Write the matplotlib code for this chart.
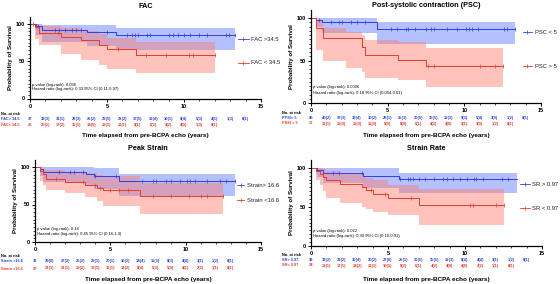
import numpy as np
import matplotlib
matplotlib.use("Agg")
import matplotlib.pyplot as plt
from matplotlib.transforms import blended_transform_factory

plt.rcParams['font.family'] = ['Liberation Sans', 'DejaVu Sans']

BLUE = '#2f3fe0'
RED = '#e8392c'
BLUE_FILL = '#5a74ff'
RED_FILL = '#ff7a6a'

# ---- FAC ----
fac_hi_t = [0, 0.4, 0.8, 3.7, 5.6]
fac_hi_s = [100, 97, 92, 89, 85]
fac_hi_up = [100, 100, 99, 98, 94]
fac_hi_lo = [100, 85, 76, 70, 65]
fac_hi_end = 13.3
fac_hi_cens = [0.2, 0.5, 1.6, 1.9, 2.3, 2.7, 3.0, 3.3, 5.0, 6.3, 6.6, 6.8, 7.0, 7.6, 7.8,
               9.0, 9.3, 9.6, 10.0, 10.4, 11.0, 11.5, 12.7, 12.9, 13.3]
fac_lo_t = [0, 0.3, 0.6, 2.0, 3.3, 4.5, 5.0, 6.9]
fac_lo_s = [100, 96, 88, 83, 79, 72, 66, 58]
fac_lo_up = [100, 100, 97, 94, 91, 86, 81, 76]
fac_lo_lo = [100, 80, 72, 60, 52, 45, 40, 34]
fac_lo_end = 12.0
fac_lo_cens = [0.4, 1.8, 5.7, 7.5, 8.8, 10.3, 10.6, 12.0]
fac_risk_hi = ['37', '32(3)', '31(1)', '28(3)', '25(2)', '23(5)', '22(2)', '17(5)', '13(4)',
               '10(1)', '8(4)', '5(3)', '4(1)', '1(3)', '0(1)']
fac_risk_lo = ['25', '20(1)', '17(2)', '15(1)', '14(0)', '12(1)', '11(1)', '9(1)', '6(3)',
               '4(2)', '4(0)', '1(3)', '0(1)']

# ---- PSC ----
psc_lo_t = [0, 0.3, 0.7, 4.3]
psc_lo_s = [100, 98, 95, 87]
psc_lo_up = [100, 100, 100, 95]
psc_lo_lo = [100, 90, 82, 70]
psc_lo_end = 13.3
psc_lo_cens = [0.5, 1.3, 1.8, 2.0, 2.6, 3.0, 3.5, 5.2, 5.6, 6.2, 6.3, 6.8, 7.5, 7.8, 8.0,
               8.9, 9.5, 10.1, 10.3, 10.5, 10.9, 12.6, 12.8, 13.3]
psc_hi_t = [0, 0.3, 0.8, 2.3, 3.3, 3.5, 5.7, 7.5]
psc_hi_s = [100, 88, 76, 76, 66, 57, 51, 44]
psc_hi_up = [100, 98, 88, 84, 80, 74, 72, 65]
psc_hi_lo = [100, 62, 49, 41, 36, 30, 27, 19]
psc_hi_end = 12.5
psc_hi_cens = [7.6, 8.0, 11.0, 12.0, 12.5]
psc_risk_lo = ['45', '40(2)', '37(3)', '33(4)', '30(2)', '28(1)', '25(3)', '20(5)', '15(5)',
               '12(3)', '9(3)', '5(4)', '3(0)', '1(2)', '0(1)']
psc_risk_hi = ['17', '12(1)', '11(0)', '11(0)', '11(0)', '9(0)', '8(0)', '6(1)', '4(2)',
               '4(0)', '3(1)', '3(0)', '1(2)', '0(1)']

# ---- Peak strain ----
ps_hi_t = [0, 0.3, 0.5, 3.4, 3.9, 5.6]
ps_hi_s = [100, 97, 94, 91, 88, 82]
ps_hi_up = [100, 100, 100, 100, 99, 91]
ps_hi_lo = [100, 88, 80, 76, 71, 61]
ps_hi_end = 13.3
ps_hi_cens = [1.6, 2.3, 2.6, 3.2, 4.0, 5.4, 7.1, 7.8, 8.0, 8.7, 9.0, 9.6, 10.1, 10.3,
              10.6, 11.4, 12.3, 12.7, 13.3]
ps_lo_t = [0, 0.3, 0.5, 0.7, 2.0, 3.3, 4.1, 4.5, 7.0]
ps_lo_s = [100, 95, 91, 84, 80, 76, 72, 70, 62]
ps_lo_up = [100, 100, 98, 96, 94, 92, 90, 88, 79]
ps_lo_lo = [100, 82, 76, 70, 65, 60, 55, 48, 38]
ps_lo_end = 12.5
ps_lo_cens = [1.4, 3.2, 4.0, 4.3, 5.0, 5.6, 6.2, 7.8, 9.0, 10.2, 11.0, 11.4, 12.5]
ps_risk_hi = ['31', '29(0)', '27(2)', '25(2)', '22(1)', '20(1)', '16(2)', '14(4)', '11(3)',
              '8(3)', '4(4)', '3(1)', '1(2)', '0(1)']
ps_risk_lo = ['27', '23(3)', '21(1)', '19(2)', '17(1)', '15(1)', '13(2)', '8(4)', '5(3)',
              '5(0)', '4(1)', '2(2)', '1(1)', '0(1)']

# ---- Strain rate ----
sr_hi_t = [0, 0.4, 0.8, 3.4, 5.7]
sr_hi_s = [100, 97, 93, 90, 86]
sr_hi_up = [100, 100, 100, 100, 93]
sr_hi_lo = [100, 88, 80, 74, 68]
sr_hi_end = 13.4
sr_hi_cens = [1.4, 1.8, 3.3, 5.8, 6.3, 6.4, 6.6, 7.0, 7.4, 8.0, 8.6, 8.8, 9.2, 9.7, 10.1,
              10.6, 10.7, 11.2, 12.4, 12.8]
sr_lo_t = [0, 0.3, 0.6, 0.8, 1.0, 1.9, 3.3, 3.6, 4.0, 5.0, 7.0]
sr_lo_s = [100, 96, 92, 88, 84, 79, 75, 71, 66, 61, 53]
sr_lo_up = [100, 100, 100, 98, 96, 93, 90, 87, 84, 78, 73]
sr_lo_lo = [100, 84, 78, 70, 62, 55, 50, 47, 44, 40, 27]
sr_lo_end = 12.5
sr_lo_cens = [3.9, 4.8, 6.5, 10.3, 10.5, 12.0, 12.5]
sr_risk_hi = ['38', '33(2)', '31(2)', '30(4)', '30(2)', '27(0)', '25(1)', '20(5)', '15(5)',
              '12(3)', '8(4)', '4(4)', '3(1)', '1(2)', '0(1)']
sr_risk_lo = ['24', '19(1)', '17(1)', '14(2)', '13(1)', '10(1)', '8(2)', '6(1)', '4(2)',
              '4(0)', '4(0)', '2(2)', '1(1)', '0(1)']

W, H = 560, 284
fig = plt.figure(figsize=(W / 100, H / 100), dpi=100)


def fy(py):
    return 1 - py / H


def km(ax, t, s, up, lo, end, cens, color, fill):
    tt = list(t) + [end]
    ss = list(s) + [s[-1]]
    uu = list(up) + [up[-1]]
    ll = list(lo) + [lo[-1]]
    ax.fill_between(tt, ll, uu, step='post', color=fill, alpha=0.45, lw=0)
    ax.step(tt, ss, where='post', color=color, lw=0.7)
    cy = [ss[np.searchsorted(tt, c, side='right') - 1] for c in cens]
    ax.plot(cens, cy, ls='none', marker='|', ms=2.2, mew=0.5, color=color)


def panel(px, title, title_y, nar_y, r1_y, r2_y, xl_y, lab_x,
          g1, g2, leg1, leg2, risk1, risk2, name1, name2, pval, hr, ann_y):
    x0, x15, y0, ytop = px
    ax = fig.add_axes([x0 / W, fy(y0), (x15 - x0) / W, (y0 - ytop) / H])
    km(ax, *g1, BLUE, BLUE_FILL)
    km(ax, *g2, RED, RED_FILL)
    ax.set_xlim(0, 15)
    ax.set_ylim(0, 110)
    for side in ['top', 'right']:
        ax.spines[side].set_visible(False)
    for side in ['left', 'bottom']:
        ax.spines[side].set_linewidth(0.9)
    ax.set_xticks([0, 5, 10, 15])
    ax.set_xticks(np.arange(0, 16, 1), minor=True)
    ax.set_yticks([0, 50, 100])
    ax.set_yticks(np.arange(0, 101, 5), minor=True)
    ax.tick_params(which='major', length=2.5, width=0.7, labelsize=4.0, pad=1.2)
    ax.tick_params(which='minor', length=1.5, width=0.5)
    for lb in ax.get_xticklabels() + ax.get_yticklabels():
        lb.set_fontweight('bold')
    ax.set_ylabel('Probability of Survival', fontsize=4.4, fontweight='bold', labelpad=2)

    tr = blended_transform_factory(ax.transData, fig.transFigure)
    ax.text(7.5, fy(title_y), title, transform=tr, fontsize=5.2, fontweight='bold',
            ha='center', va='center')

    # legend
    for (ly, col, txt) in [(leg1[0], BLUE, leg1[1]), (leg2[0], RED, leg2[1])]:
        lx0, lx1, tx = leg1[2], leg1[3], leg1[4]
        ax.plot([lx0, lx1], [ly, ly], color=col, lw=0.6, clip_on=False)
        ax.plot([(lx0 + lx1) / 2], [ly], marker='|', ms=2.2, mew=0.5, color=col, clip_on=False)
        ax.text(tx, ly, txt, fontsize=4.2, va='center', ha='left', color='#222222', clip_on=False)

    ax.text(0.15, ann_y[0], pval, fontsize=3.0, va='center', ha='left')
    ax.text(0.15, ann_y[1], hr, fontsize=3.0, va='center', ha='left')

    fig.text(lab_x / W, fy(nar_y), 'No. at risk', fontsize=2.8, fontweight='bold',
             va='center', ha='left')
    fig.text(lab_x / W, fy(r1_y), name1, fontsize=2.8, fontweight='bold', color=BLUE,
             va='center', ha='left')
    fig.text(lab_x / W, fy(r2_y), name2, fontsize=2.8, fontweight='bold', color=RED,
             va='center', ha='left')
    for i, v in enumerate(risk1):
        ax.text(i, fy(r1_y), v, transform=tr, fontsize=2.9, fontweight='bold', color=BLUE,
                ha='center', va='center')
    for i, v in enumerate(risk2):
        ax.text(i, fy(r2_y), v, transform=tr, fontsize=2.9, fontweight='bold', color=RED,
                ha='center', va='center')
    ax.text(7.5, fy(xl_y), 'Time elapsed from pre-BCPA echo (years)', transform=tr,
            fontsize=4.6, fontweight='bold', ha='center', va='center')
    return ax


panel((30, 261, 98.5, 16.5), 'FAC', 6.5, 114, 119, 125, 136, 1,
      (fac_hi_t, fac_hi_s, fac_hi_up, fac_hi_lo, fac_hi_end, fac_hi_cens),
      (fac_lo_t, fac_lo_s, fac_lo_up, fac_lo_lo, fac_lo_end, fac_lo_cens),
      (79.5, 'FAC >34.5', 13.5, 14.2, 14.35), (48, 'FAC < 34.5'),
      fac_risk_hi, fac_risk_lo, 'FAC> 34.5', 'FAC< 34.5',
      'p value (log-rank): 0.036', 'Hazard ratio (log-rank): 0.33 95% CI (0.11-0.97)', (18, 12.5))

panel((311, 541, 103, 9.5), 'Post-systolic contraction (PSC)', 5.5, 113, 117.5, 123.5, 136, 282,
      (psc_lo_t, psc_lo_s, psc_lo_up, psc_lo_lo, psc_lo_end, psc_lo_cens),
      (psc_hi_t, psc_hi_s, psc_hi_up, psc_hi_lo, psc_hi_end, psc_hi_cens),
      (83, 'PSC < 5', 13.8, 14.4, 14.6), (43.5, 'PSC > 5'),
      psc_risk_lo, psc_risk_hi, 'PPSI< 5', 'PSSI > 5',
      'p value (log-rank): 0.0006', 'Hazard ratio (log-rank): 0.18 95% CI (0.054-0.61)', (18.5, 11.5))

panel((35, 261, 242, 159.5), 'Peak Strain', 148.5, 256, 261, 268.5, 279, 1,
      (ps_hi_t, ps_hi_s, ps_hi_up, ps_hi_lo, ps_hi_end, ps_hi_cens),
      (ps_lo_t, ps_lo_s, ps_lo_up, ps_lo_lo, ps_lo_end, ps_lo_cens),
      (75.5, 'Strain> 16.6', 13.4, 13.9, 14.1), (55.5, 'Strain <16.6'),
      ps_risk_hi, ps_risk_lo, 'Strain >16.6', 'Strain <16.6',
      'p value (log-rank): 0.14', 'Hazard ratio (log-rank): 0.45 95% CI (0.16-1.3)', (17, 11))

panel((311, 542, 246, 160), 'Strain Rate', 148.5, 255, 260, 265.5, 279, 282,
      (sr_hi_t, sr_hi_s, sr_hi_up, sr_hi_lo, sr_hi_end, sr_hi_cens),
      (sr_lo_t, sr_lo_s, sr_lo_up, sr_lo_lo, sr_lo_end, sr_lo_cens),
      (79, 'SR > 0.97', 13.6, 14.2, 14.35), (48.5, 'SR < 0.97'),
      sr_risk_hi, sr_risk_lo, 'SR> 0.97', 'SR< 0.97',
      'p value (log-rank): 0.022', 'Hazard ratio (log-rank): 0.30 95% CI (0.10-0.91)', (19, 12.5))

fig.savefig('out.png', dpi=100)
